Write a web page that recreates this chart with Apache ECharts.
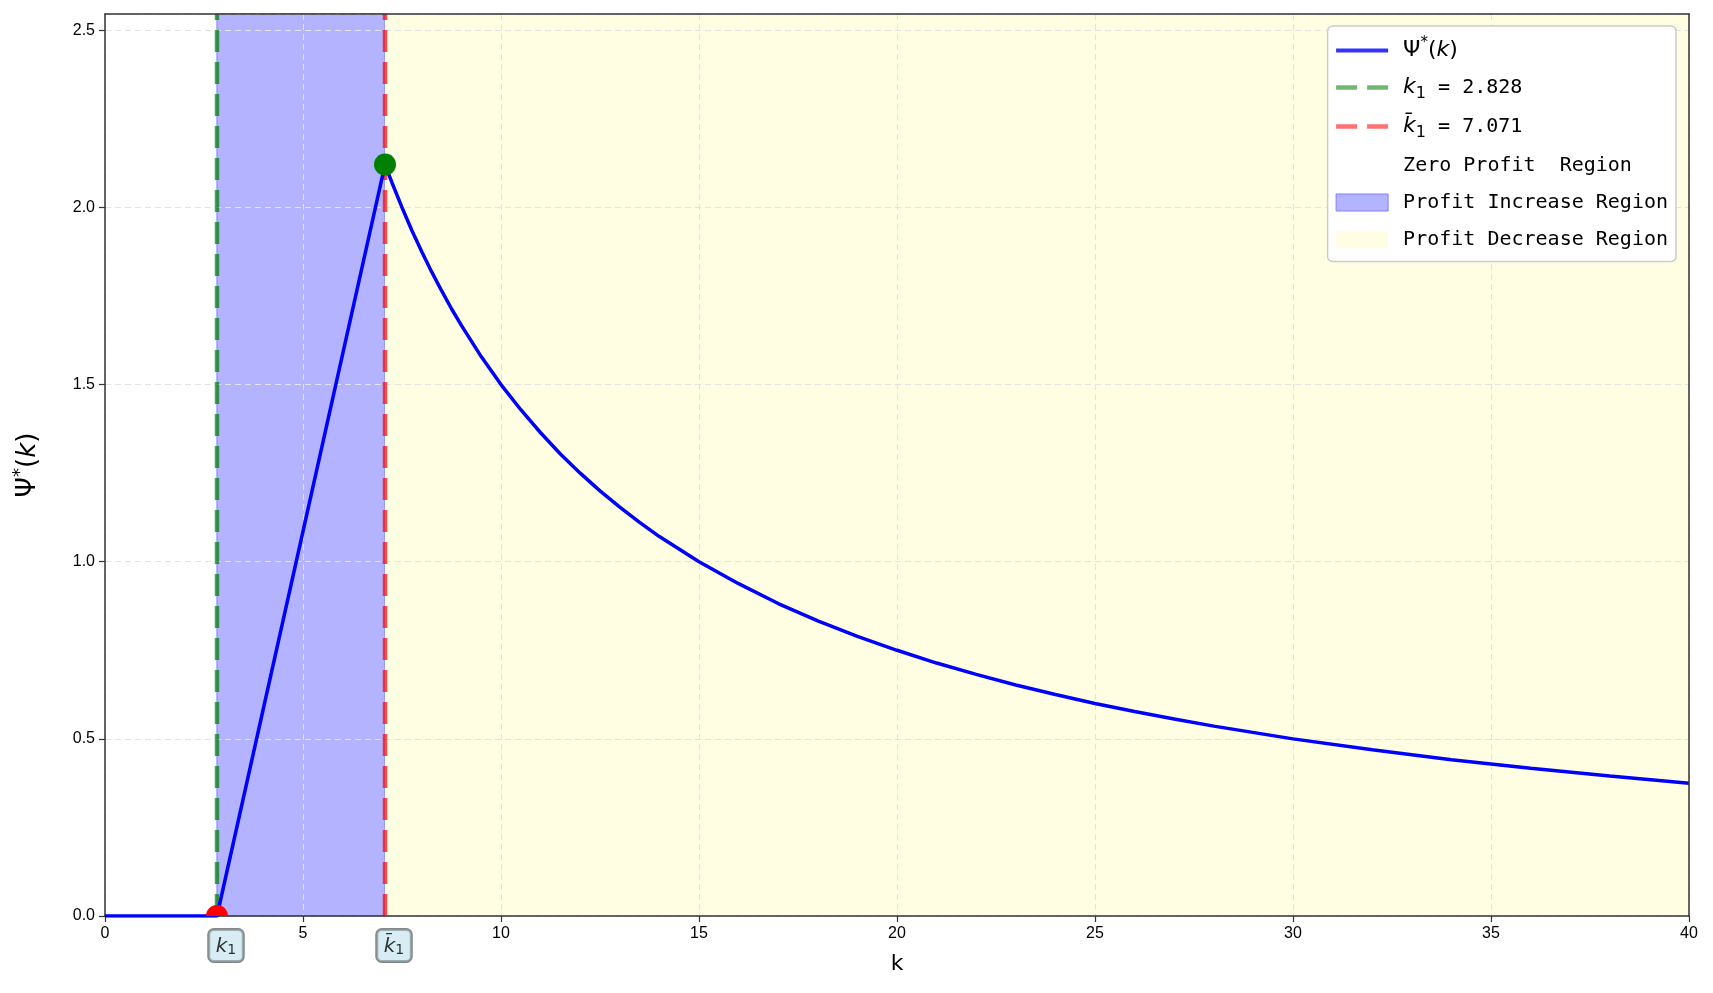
<!DOCTYPE html>
<html>
<head>
<meta charset="utf-8">
<script src="https://cdn.jsdelivr.net/npm/echarts@6/dist/echarts.min.js"></script>
<style>
  html, body { margin: 0; padding: 0; background: #fff; }
  #main { width: 1713px; height: 993px; }
</style>
</head>
<body>
<div id="main"></div>
<script>
// thresholds
const k1 = 2.828
const kBar = 7.071
const psiPeak = 2.121
const yMax = 2.546

// Ψ*(k)
const kVals = [0, 2.828, 7.071, 7.25, 7.5, 7.75, 8, 8.25, 8.5, 8.75, 9, 9.5, 10, 10.5, 11, 11.5, 12, 12.5, 13, 13.5, 14, 15, 16, 17, 18, 19, 20, 21, 22, 23, 24, 25, 26, 27, 28, 30, 32, 34, 36, 38, 40]
const psiVals = [0, 0, 2.121, 2.069, 2.0, 1.935, 1.875, 1.818, 1.765, 1.714, 1.667, 1.579, 1.5, 1.429, 1.364, 1.304, 1.25, 1.2, 1.154, 1.111, 1.071, 1.0, 0.938, 0.882, 0.833, 0.789, 0.75, 0.714, 0.682, 0.652, 0.625, 0.6, 0.577, 0.556, 0.536, 0.5, 0.469, 0.441, 0.417, 0.395, 0.375]

const xTicks = [0, 5, 10, 15, 20, 25, 30, 35, 40]
const yTicks = [0, 0.5, 1.0, 1.5, 2.0, 2.5]

const legendText = {
  psi: '{n|Ψ}{sup|*}{n|(}{i|k}{n|)}',
  k1: '{i|k}{sub|1}{m| = 2.828}',
  kbar: '{i|k̄}{sub|1}{m| = 7.071}',
  zero: 'Zero Profit  Region',
  inc: 'Profit Increase Region',
  dec: 'Profit Decrease Region'
}

const mathFont = 'DejaVu Sans'
const monoFont = 'DejaVu Sans Mono'

// legend glyphs: a 52x17 box with a solid or a dashed stroke in the middle
const solidIcon = 'path://M0,0L0.05,0L0.05,0.05Z M52,17L51.95,17L51.95,16.95Z M0,6.5L52,6.5L52,10.5L0,10.5Z'
const dashIcon = 'path://M0,0L0.05,0L0.05,0.05Z M52,17L51.95,17L51.95,16.95Z M0,6.3L21,6.3L21,10.7L0,10.7Z M31,6.3L52,6.3L52,10.7L31,10.7Z'

let myChart = echarts.init(document.getElementById('main'))

const psiData = kVals.map((k, i) => [k, psiVals[i]])

function dot (params, api) {
  let p = api.coord([api.value(0), api.value(1)])
  return {
    type: 'circle',
    shape: { cx: p[0], cy: p[1], r: 11 },
    style: { fill: api.visual('color') }
  }
}

const frameAxis = { show: true, onZero: false, lineStyle: { color: '#333', width: 1.5 } }

myChart.setOption({
  animation: false,
  grid: {
    left: 105,
    right: 24,
    top: 14,
    bottom: 77
  },
  legend: {
    orient: 'vertical',
    right: 37,
    top: 26,
    padding: [10, 8, 10, 8],
    itemGap: 13,
    itemWidth: 52,
    itemHeight: 17,
    backgroundColor: '#fff',
    borderColor: '#cccccc',
    borderWidth: 1.5,
    borderRadius: 5,
    data: [
      { name: 'psi', icon: solidIcon, itemStyle: { color: '#0000ff' } },
      { name: 'k1', icon: dashIcon, itemStyle: { color: 'rgba(0,128,0,0.7)' } },
      { name: 'kbar', icon: dashIcon, itemStyle: { color: 'rgba(255,0,0,0.7)' } },
      { name: 'zero', icon: 'rect', itemStyle: { color: 'rgba(255,255,255,0)', borderWidth: 0 } },
      { name: 'inc', icon: 'rect', itemStyle: { color: '#b3b3ff', borderColor: '#8080ff', borderWidth: 1 } },
      { name: 'dec', icon: 'rect', itemStyle: { color: '#fffee2', borderWidth: 0 } }
    ],
    formatter: name => legendText[name],
    textStyle: {
      fontFamily: monoFont,
      fontSize: 20,
      color: '#000',
      padding: [0, 0, 0, 10],
      lineHeight: 24,
      rich: {
        n: { fontFamily: mathFont, fontSize: 22, color: '#000' },
        i: { fontFamily: mathFont, fontStyle: 'italic', fontSize: 22, color: '#000' },
        m: { fontFamily: monoFont, fontSize: 20, color: '#000' },
        sub: { fontFamily: mathFont, fontSize: 16, color: '#000', padding: [12, 0, 0, 0] },
        sup: { fontFamily: mathFont, fontSize: 15, color: '#000', padding: [0, 0, 14, 0] }
      }
    }
  },
  xAxis: [
    {
      type: 'value',
      z: 2,
      min: 0,
      max: 40,
      interval: 5,
      name: 'k',
      nameLocation: 'middle',
      nameGap: 37,
      nameTextStyle: { fontFamily: mathFont, fontSize: 22, color: '#000' },
      axisLine: { show: true, onZero: false, lineStyle: { color: '#333', width: 1.5 } },
      axisTick: { show: true, length: 6, lineStyle: { color: '#333', width: 1.2 } },
      axisLabel: {
        margin: 10,
        fontFamily: 'Liberation Sans',
        fontSize: 16,
        color: '#000',
        formatter: v => xTicks.includes(v) ? String(v) : ''
      },
      splitLine: { show: true, lineStyle: { color: '#e3e3e3', type: [6, 4], width: 1 } }
    },
    {
      type: 'value',
      position: 'top',
      z: 10,
      min: 0,
      max: 40,
      axisLine: frameAxis,
      axisTick: { show: false },
      axisLabel: { show: false },
      splitLine: { show: false }
    }
  ],
  yAxis: [
    {
      type: 'value',
      z: 2,
      min: 0,
      max: yMax,
      interval: 0.5,
      name: '{n|Ψ}{sup|*}{n|(}{i|k}{n|)}',
      nameLocation: 'middle',
      nameRotate: 90,
      nameGap: 60,
      nameTextStyle: {
        rich: {
          n: { fontFamily: mathFont, fontSize: 26, color: '#000' },
          i: { fontFamily: mathFont, fontStyle: 'italic', fontSize: 26, color: '#000' },
          sup: { fontFamily: mathFont, fontSize: 18, color: '#000', padding: [0, 0, 16, 0] }
        }
      },
      axisLine: { show: true, onZero: false, lineStyle: { color: '#333', width: 1.5 } },
      axisTick: { show: true, length: 6, lineStyle: { color: '#333', width: 1.2 } },
      axisLabel: {
        margin: 10,
        fontFamily: 'Liberation Sans',
        fontSize: 16,
        color: '#000',
        showMaxLabel: false,
        formatter: v => yTicks.includes(v) ? v.toFixed(1) : ''
      },
      splitLine: { show: true, lineStyle: { color: '#e3e3e3', type: [6, 4], width: 1 } }
    },
    {
      type: 'value',
      position: 'right',
      z: 10,
      min: 0,
      max: yMax,
      axisLine: frameAxis,
      axisTick: { show: false },
      axisLabel: { show: false },
      splitLine: { show: false }
    }
  ],
  series: [
    // legend-only entries
    { name: 'psi', type: 'scatter', data: [] },
    { name: 'k1', type: 'scatter', data: [] },
    { name: 'kbar', type: 'scatter', data: [] },
    // shaded regions
    {
      name: 'zero',
      type: 'line',
      z: 1,
      data: [],
      markArea: {
        silent: true,
        itemStyle: { color: '#ffffff' },
        data: [[{ xAxis: 0 }, { xAxis: k1 }]]
      }
    },
    {
      name: 'inc',
      type: 'line',
      z: 1,
      data: [],
      markArea: {
        silent: true,
        itemStyle: { color: '#b3b3ff', borderColor: '#8c8cff', borderWidth: 1.2 },
        data: [[{ xAxis: k1 }, { xAxis: kBar }]]
      }
    },
    {
      name: 'dec',
      type: 'line',
      z: 1,
      data: [],
      markArea: {
        silent: true,
        itemStyle: { color: '#fffee2' },
        data: [[{ xAxis: kBar }, { xAxis: 40 }]]
      }
    },
    // threshold lines
    {
      name: 'k1Line',
      type: 'line',
      z: 4,
      symbol: 'none',
      data: [[k1, 0], [k1, yMax]],
      lineStyle: { color: 'rgba(0,128,0,0.7)', width: 4.5, type: [22, 10] }
    },
    {
      name: 'kbarLine',
      type: 'line',
      z: 4,
      symbol: 'none',
      data: [[kBar, 0], [kBar, yMax]],
      lineStyle: { color: 'rgba(255,0,0,0.7)', width: 4.5, type: [22, 10] }
    },
    {
      name: 'psiLine',
      type: 'line',
      z: 5,
      symbol: 'none',
      data: psiData,
      lineStyle: { color: '#0000ff', width: 3.5 }
    },
    {
      type: 'custom',
      z: 6,
      clip: true,
      color: '#ff0000',
      renderItem: dot,
      data: [[k1, 0]]
    },
    {
      type: 'custom',
      z: 6,
      clip: true,
      color: '#008000',
      renderItem: dot,
      data: [[kBar, psiPeak]]
    },
    {
      type: 'scatter',
      z: 7,
      symbolSize: 1,
      itemStyle: { color: 'rgba(0,0,0,0)' },
      data: [
        { value: [k1, 0], label: { formatter: '{i|k}{sub|1}' } },
        { value: [kBar, 0], label: { formatter: '{i|k̄}{sub|1}' } }
      ],
      label: {
        show: true,
        position: 'bottom',
        distance: 13,
        offset: [9, 0],
        backgroundColor: 'rgba(173,216,230,0.6)',
        borderColor: '#666',
        borderWidth: 1.5,
        borderRadius: 5,
        padding: [6, 7, 4, 7],
        rich: {
          i: { fontFamily: mathFont, fontStyle: 'italic', fontSize: 20, color: '#000' },
          sub: { fontFamily: mathFont, fontSize: 14, color: '#000', padding: [8, 0, 0, 0] }
        }
      }
    }
  ]
})
</script>
</body>
</html>
